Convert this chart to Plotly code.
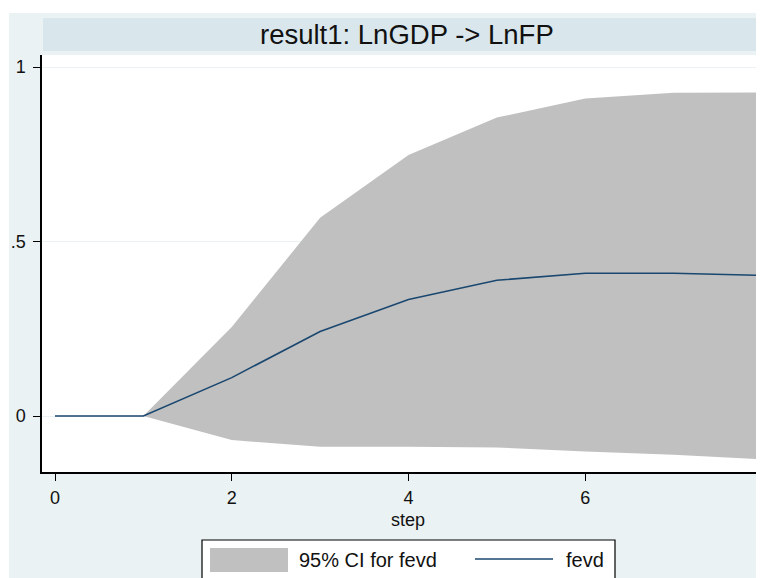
import plotly.graph_objects as go

# ---- data ----
step = [0, 1, 2, 3, 4, 5, 6, 7, 8]
fevd = [0.0, 0.0, 0.110, 0.242, 0.334, 0.389, 0.409, 0.409, 0.403]
ci_upper = [0.0, 0.0, 0.255, 0.568, 0.748, 0.855, 0.910, 0.926, 0.927]
ci_lower = [0.0, 0.0, -0.069, -0.088, -0.088, -0.090, -0.102, -0.111, -0.124]
y_tickvals = [0, 0.5, 1]
y_ticktext = ["0", ".5", "1"]
x_tickvals = [0, 2, 4, 6, 8]
x_ticktext = ["0", "2", "4", "6", "8"]
title_text = "result1: LnGDP -> LnFP"
xaxis_title = "step"
legend_labels = ["95% CI for fevd", "fevd"]

# ---- style ----
W, H = 764, 578
OFF = 8  # page body margin offset between figure and screenshot
ML, MR, MT, MB = 34, 0, 47, 114
PW, PH = W - ML - MR, H - MT - MB
FONT = "Liberation Sans, Arial, sans-serif"
OUTER = "#EAF2F3"
BAND = "#D9E6EB"
CI_GREY = "#C0C0C0"
NAVY = "#1A476F"
TXT = "#111111"
XPU = 88.375   # pixels per x unit
YPU = 349.0    # pixels per y unit


def px(xs):
    """screen x (reference pixels) -> paper x"""
    return (xs - OFF - ML) / PW


def py(ys):
    """screen y (reference pixels) -> paper y"""
    return (H - MB - (ys - OFF)) / PH


fig = go.Figure()

fig.add_trace(go.Scatter(x=step, y=ci_lower, mode="lines", line=dict(width=0, color=CI_GREY),
                         showlegend=False, hoverinfo="skip"))
fig.add_trace(go.Scatter(x=step, y=ci_upper, mode="lines", line=dict(width=0, color=CI_GREY),
                         fill="tonexty", fillcolor=CI_GREY, name=legend_labels[0], showlegend=False))
fig.add_trace(go.Scatter(x=step, y=fevd, mode="lines", line=dict(width=1.6, color=NAVY),
                         name=legend_labels[1], showlegend=False))

shapes = [
    # white strips outside the graph region
    dict(type="rect", xref="paper", yref="paper", x0=px(-5), x1=px(W + 20), y0=py(13), y1=py(-5),
         fillcolor="white", line=dict(width=0), layer="below"),
    dict(type="rect", xref="paper", yref="paper", x0=px(-5), x1=px(9), y0=py(H + 20), y1=py(-5),
         fillcolor="white", line=dict(width=0), layer="below"),
    # title band
    dict(type="rect", xref="paper", yref="paper", x0=px(43), x1=px(W + 20), y0=py(51), y1=py(18),
         fillcolor=BAND, line=dict(width=0), layer="below"),
    # legend box
    dict(type="rect", xref="paper", yref="paper", x0=px(202), x1=px(615), y0=py(H + 20), y1=py(540),
         fillcolor="white", line=dict(width=1.2, color="black"), layer="above"),
    # legend grey swatch
    dict(type="rect", xref="paper", yref="paper", x0=px(210), x1=px(288), y0=py(572), y1=py(548),
         fillcolor=CI_GREY, line=dict(width=0), layer="above"),
    # legend line swatch
    dict(type="line", xref="paper", yref="paper", x0=px(475), x1=px(553), y0=py(559), y1=py(559),
         line=dict(width=1.6, color=NAVY), layer="above"),
]

annotations = [
    dict(text=title_text, xref="paper", yref="paper", x=px(407), y=py(34.5), xanchor="center",
         yanchor="middle", showarrow=False, font=dict(family=FONT, size=27.5, color=TXT)),
    dict(text=xaxis_title, xref="paper", yref="paper", x=px(408), y=py(520), xanchor="center",
         yanchor="middle", showarrow=False, font=dict(family=FONT, size=18, color=TXT)),
    dict(text=legend_labels[0], xref="paper", yref="paper", x=px(297), y=py(560), xanchor="left",
         yanchor="middle", showarrow=False, font=dict(family=FONT, size=20, color=TXT)),
    dict(text=legend_labels[1], xref="paper", yref="paper", x=px(564), y=py(560), xanchor="left",
         yanchor="middle", showarrow=False, font=dict(family=FONT, size=20, color=TXT)),
]

x0_pix = 55 - OFF - ML  # pixel of x=0 inside the plot area
y0_pix = (472 - 416)    # pixels from plot bottom to y=0

fig.update_layout(
    width=W, height=H,
    margin=dict(l=ML, r=MR, t=MT, b=MB, pad=0),
    paper_bgcolor=OUTER,
    plot_bgcolor="white",
    font=dict(family=FONT, size=18, color=TXT),
    showlegend=False,
    shapes=shapes,
    annotations=annotations,
    xaxis=dict(
        range=[-x0_pix / XPU, (PW - x0_pix) / XPU],
        tickvals=x_tickvals, ticktext=x_ticktext,
        ticks="outside", ticklen=7, tickwidth=1.2, tickcolor="black",
        ticklabelstandoff=2,
        showline=True, linecolor="black", linewidth=1.5,
        showgrid=False, zeroline=False,
        tickfont=dict(family=FONT, size=18, color=TXT),
    ),
    yaxis=dict(
        range=[-y0_pix / YPU, (PH - y0_pix) / YPU],
        tickvals=y_tickvals, ticktext=y_ticktext,
        ticks="outside", ticklen=7, tickwidth=1.2, tickcolor="black",
        ticklabelstandoff=4,
        showline=True, linecolor="black", linewidth=1.5,
        showgrid=True, gridcolor=OUTER, gridwidth=1,
        zeroline=False,
        tickfont=dict(family=FONT, size=18, color=TXT),
    ),
)

fig.write_html("out.html")
